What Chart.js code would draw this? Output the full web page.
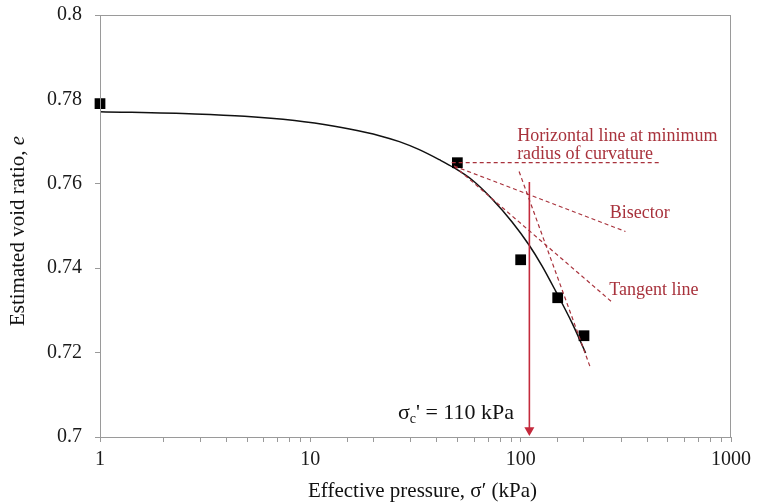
<!DOCTYPE html>
<html>
<head>
<meta charset="utf-8">
<script src="https://cdn.jsdelivr.net/npm/chart.js@4"></script>
<style>
  html, body { margin: 0; padding: 0; background: #ffffff; }
  #wrap { width: 765px; height: 504px; position: relative; }
</style>
</head>
<body>
<div id="wrap"><canvas id="c" width="765" height="504"></canvas></div>
<script>
// ---- data ----
const pressure = [1, 50, 100, 150, 200];
const voidRatio = [0.779, 0.765, 0.742, 0.733, 0.724];

const fitPressure = [1, 2.82, 4.87, 8.42, 10.47, 15.35, 21.3, 26.5, 32.96, 41.01, 48.31, 58.83, 73.16, 91.04, 109.6, 126.3, 146.7, 175.4, 203.6];
const fitVoid = [0.7771, 0.77654, 0.7760, 0.7750, 0.77438, 0.77297, 0.77141, 0.76999, 0.76809, 0.76572, 0.76377, 0.7609, 0.7564, 0.75095, 0.7455, 0.74057, 0.73457, 0.72704, 0.71991];

const horizontalX = [47, 455];
const horizontalY = [0.765, 0.765];
const bisectorX = [48.3, 315];
const bisectorY = [0.7642, 0.7487];
const tangentX = [48.3, 270];
const tangentY = [0.7642, 0.7321];
const compressionX = [98.3, 215];
const compressionY = [0.7629, 0.7163];

const preconsolidation = 110;
const arrowY = [0.7604, 0.7016];

const xTickValues = [1, 10, 100, 1000];
const yTickValues = [0.7, 0.72, 0.74, 0.76, 0.78, 0.8];

const annotationTexts = ['Horizontal line at minimum', 'radius of curvature', 'Bisector', 'Tangent line'];
const annotationX = [96.2, 96.2, 265, 264];
const annotationY = [0.7702, 0.7659, 0.7518, 0.7337];
const sigmaLabelX = 93.0;
const sigmaLabelY = 0.7042;

// ---- helpers ----
const pts = (xs, ys) => xs.map((x, i) => ({ x: x, y: ys[i] }));
const SERIF = '"Liberation Serif", "Times New Roman", serif';
const DARKRED = '#a8323c';
const ARROWRED = '#c42a3c';
const AXISGREY = '#9a9a9a';

Chart.defaults.font.family = SERIF;

const dashed = (xs, ys) => ({
  data: pts(xs, ys),
  showLine: true,
  borderColor: DARKRED,
  borderWidth: 1.2,
  borderDash: [4, 3],
  pointRadius: 0,
  fill: false,
  tension: 0
});

const textPlugin = {
  id: 'texts',
  afterDraw(chart) {
    const ctx = chart.ctx;
    const xs = chart.scales.x, ys = chart.scales.y;
    const a = chart.chartArea;
    ctx.save();
    // plot frame
    ctx.strokeStyle = AXISGREY;
    ctx.lineWidth = 1;
    ctx.strokeRect(a.left + 0.5, a.top + 0.5, a.right - a.left - 1, a.bottom - a.top);

    // annotations
    ctx.fillStyle = DARKRED;
    ctx.font = '18px ' + SERIF;
    ctx.textAlign = 'left';
    ctx.textBaseline = 'alphabetic';
    annotationTexts.forEach((t, i) => {
      ctx.fillText(t, xs.getPixelForValue(annotationX[i]), ys.getPixelForValue(annotationY[i]));
    });

    // sigma_c' label (right aligned)
    ctx.fillStyle = '#111';
    const big = '22px ' + SERIF, small = '14px ' + SERIF;
    const rest = "' = " + preconsolidation + ' kPa';
    ctx.font = big; const wS = ctx.measureText('σ').width; const wR = ctx.measureText(rest).width;
    ctx.font = small; const wC = ctx.measureText('c').width;
    const xr = xs.getPixelForValue(sigmaLabelX), yb = ys.getPixelForValue(sigmaLabelY);
    let x0 = xr - (wS + wC + wR);
    ctx.font = big; ctx.fillText('σ', x0, yb);
    ctx.font = small; ctx.fillText('c', x0 + wS, yb + 4);
    ctx.font = big; ctx.fillText(rest, x0 + wS + wC, yb);

    // x axis title
    ctx.fillStyle = '#111';
    ctx.font = '21px ' + SERIF;
    ctx.textAlign = 'center';
    ctx.fillText('Effective pressure, σ′ (kPa)', (a.left + a.right) / 2 + 7, 497);

    // y axis title with italic e
    ctx.translate(24, (a.top + a.bottom) / 2 + 5);
    ctx.rotate(-Math.PI / 2);
    ctx.textAlign = 'left';
    const p1 = 'Estimated void ratio, ';
    ctx.font = '21px ' + SERIF; const w1 = ctx.measureText(p1).width;
    ctx.font = 'italic 21px ' + SERIF; const w2 = ctx.measureText('e').width;
    const sx = -(w1 + w2) / 2;
    ctx.font = '21px ' + SERIF; ctx.fillText(p1, sx, 0);
    ctx.font = 'italic 21px ' + SERIF; ctx.fillText('e', sx + w1, 0);
    ctx.restore();
  }
};

new Chart(document.getElementById('c'), {
  type: 'scatter',
  data: {
    datasets: [
      dashed(horizontalX, horizontalY),
      dashed(bisectorX, bisectorY),
      dashed(tangentX, tangentY),
      dashed(compressionX, compressionY),
      {
        data: pts([preconsolidation, preconsolidation], arrowY),
        showLine: true,
        borderColor: ARROWRED,
        borderWidth: 1.6,
        pointRadius: [0, 5.8],
        pointStyle: 'triangle',
        rotation: 180,
        pointBackgroundColor: ARROWRED,
        pointBorderColor: ARROWRED,
        pointBorderWidth: 0
      },
      {
        data: pts(pressure, voidRatio),
        showLine: false,
        clip: false,
        pointStyle: 'rect',
        pointRadius: 7.6,
        pointBackgroundColor: '#000',
        pointBorderColor: '#000',
        pointBorderWidth: 0
      },
      {
        data: pts(fitPressure, fitVoid),
        showLine: true,
        borderColor: '#111',
        borderWidth: 1.5,
        pointRadius: 0,
        cubicInterpolationMode: 'monotone'
      }
    ]
  },
  options: {
    responsive: false,
    animation: false,
    events: [],
    layout: { padding: { top: 15, right: 34, left: 0, bottom: 0 } },
    plugins: { legend: { display: false }, tooltip: { enabled: false } },
    scales: {
      x: {
        type: 'logarithmic',
        min: 1,
        max: 1000,
        afterFit(s) { s.height = 67; s.paddingLeft = 0; s.paddingRight = 0; },
        border: { display: true, color: AXISGREY, width: 1 },
        grid: { drawOnChartArea: false, drawTicks: true, tickLength: 5, color: AXISGREY },
        ticks: {
          autoSkip: false,
          maxRotation: 0,
          padding: 6,
          color: '#1a1a1a',
          font: { size: 20, family: SERIF },
          callback(v) {
            return xTickValues.some(t => Math.abs(t - v) < 1e-6 * t) ? String(v) : '';
          }
        }
      },
      y: {
        min: 0.7,
        max: 0.8,
        afterFit(s) { s.width = 100; s.paddingTop = 0; s.paddingBottom = 0; },
        afterBuildTicks(s) { s.ticks = yTickValues.map(v => ({ value: v })); },
        border: { display: true, color: AXISGREY, width: 1 },
        grid: { drawOnChartArea: false, drawTicks: true, tickLength: 5, color: AXISGREY },
        ticks: {
          padding: 13,
          color: '#1a1a1a',
          font: { size: 20, family: SERIF },
          callback(v) { return String(+v.toFixed(2)); }
        }
      }
    }
  },
  plugins: [textPlugin]
});
</script>
</body>
</html>
